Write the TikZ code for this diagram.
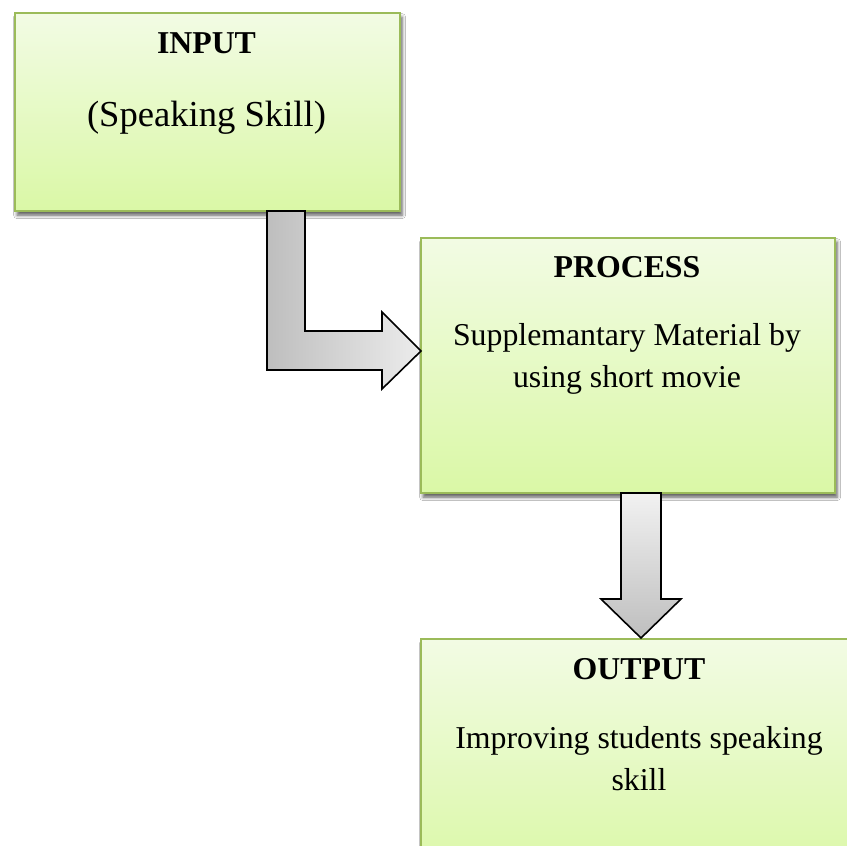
\documentclass[tikz,border=0pt]{standalone}
\usepackage{fontspec}
\setmainfont{Liberation Serif}
\usetikzlibrary{shadows.blur}
\definecolor{boxtop}{HTML}{F2FBE4}
\definecolor{boxbot}{HTML}{DAF8A6}
\definecolor{boxline}{HTML}{9BBB59}
\definecolor{arrowdark}{HTML}{BEBEBE}
\definecolor{arrowlight}{HTML}{ECECEC}
\tikzset{
  stagebox/.style={draw=boxline, line width=2.2pt, top color=boxtop, bottom color=boxbot,
    anchor=north west, inner sep=0pt,
    blur shadow={shadow xshift=2pt, shadow yshift=-4pt, shadow blur radius=3.5pt, shadow opacity=65}},
  heading/.style={font=\fontsize{31.8}{38}\selectfont\bfseries, anchor=base, inner sep=0pt},
  bodytext/.style={font=\fontsize{31.8}{38}\selectfont, anchor=base, inner sep=0pt},
  blockarrow/.style={draw=black, line width=1.6pt, line join=miter}
}
\begin{document}
\begin{tikzpicture}[x=1pt, y=-1pt]
  \useasboundingbox (0,0) rectangle (847,846);
  \clip (0,0) rectangle (847,846);
  \fill[white] (0,0) rectangle (847,846);

  % stage boxes
  \node[stagebox, minimum width=385pt, minimum height=198pt] (input) at (14,12) {};
  \node[stagebox, minimum width=414pt, minimum height=255pt] (process) at (420,237) {};
  \node[stagebox, minimum width=438pt, minimum height=240pt] (output) at (420,638) {};

  % bent block arrow from INPUT to PROCESS
  \draw[blockarrow, left color=arrowdark, right color=arrowlight]
    (267,211) -- (305,211) -- (305,331) -- (382,331) -- (382,312) -- (421,351)
    -- (382,389) -- (382,370) -- (267,370) -- cycle;

  % straight block arrow from PROCESS to OUTPUT
  \draw[blockarrow, top color=arrowlight!70!white, bottom color=arrowdark]
    (621,493) -- (661,493) -- (661,599) -- (681,599) -- (641,638)
    -- (601,599) -- (621,599) -- cycle;

  % texts
  \node[heading] (inhead) at (206.5,53) {INPUT};
  \node[bodytext, font=\fontsize{36.6}{44}\selectfont] (inbody) at (206.5,126) {(Speaking Skill)};
  \node[heading] (prhead) at (627,277) {PROCESS};
  \node[bodytext] (prbodya) at (627,345) {Supplemantary Material by};
  \node[bodytext] (prbodyb) at (627,387) {using short movie};
  \node[heading] (outhead) at (639,679) {OUTPUT};
  \node[bodytext] (outbodya) at (639,748) {Improving students speaking};
  \node[bodytext] (outbodyb) at (639,790) {skill};
\end{tikzpicture}
\end{document}
